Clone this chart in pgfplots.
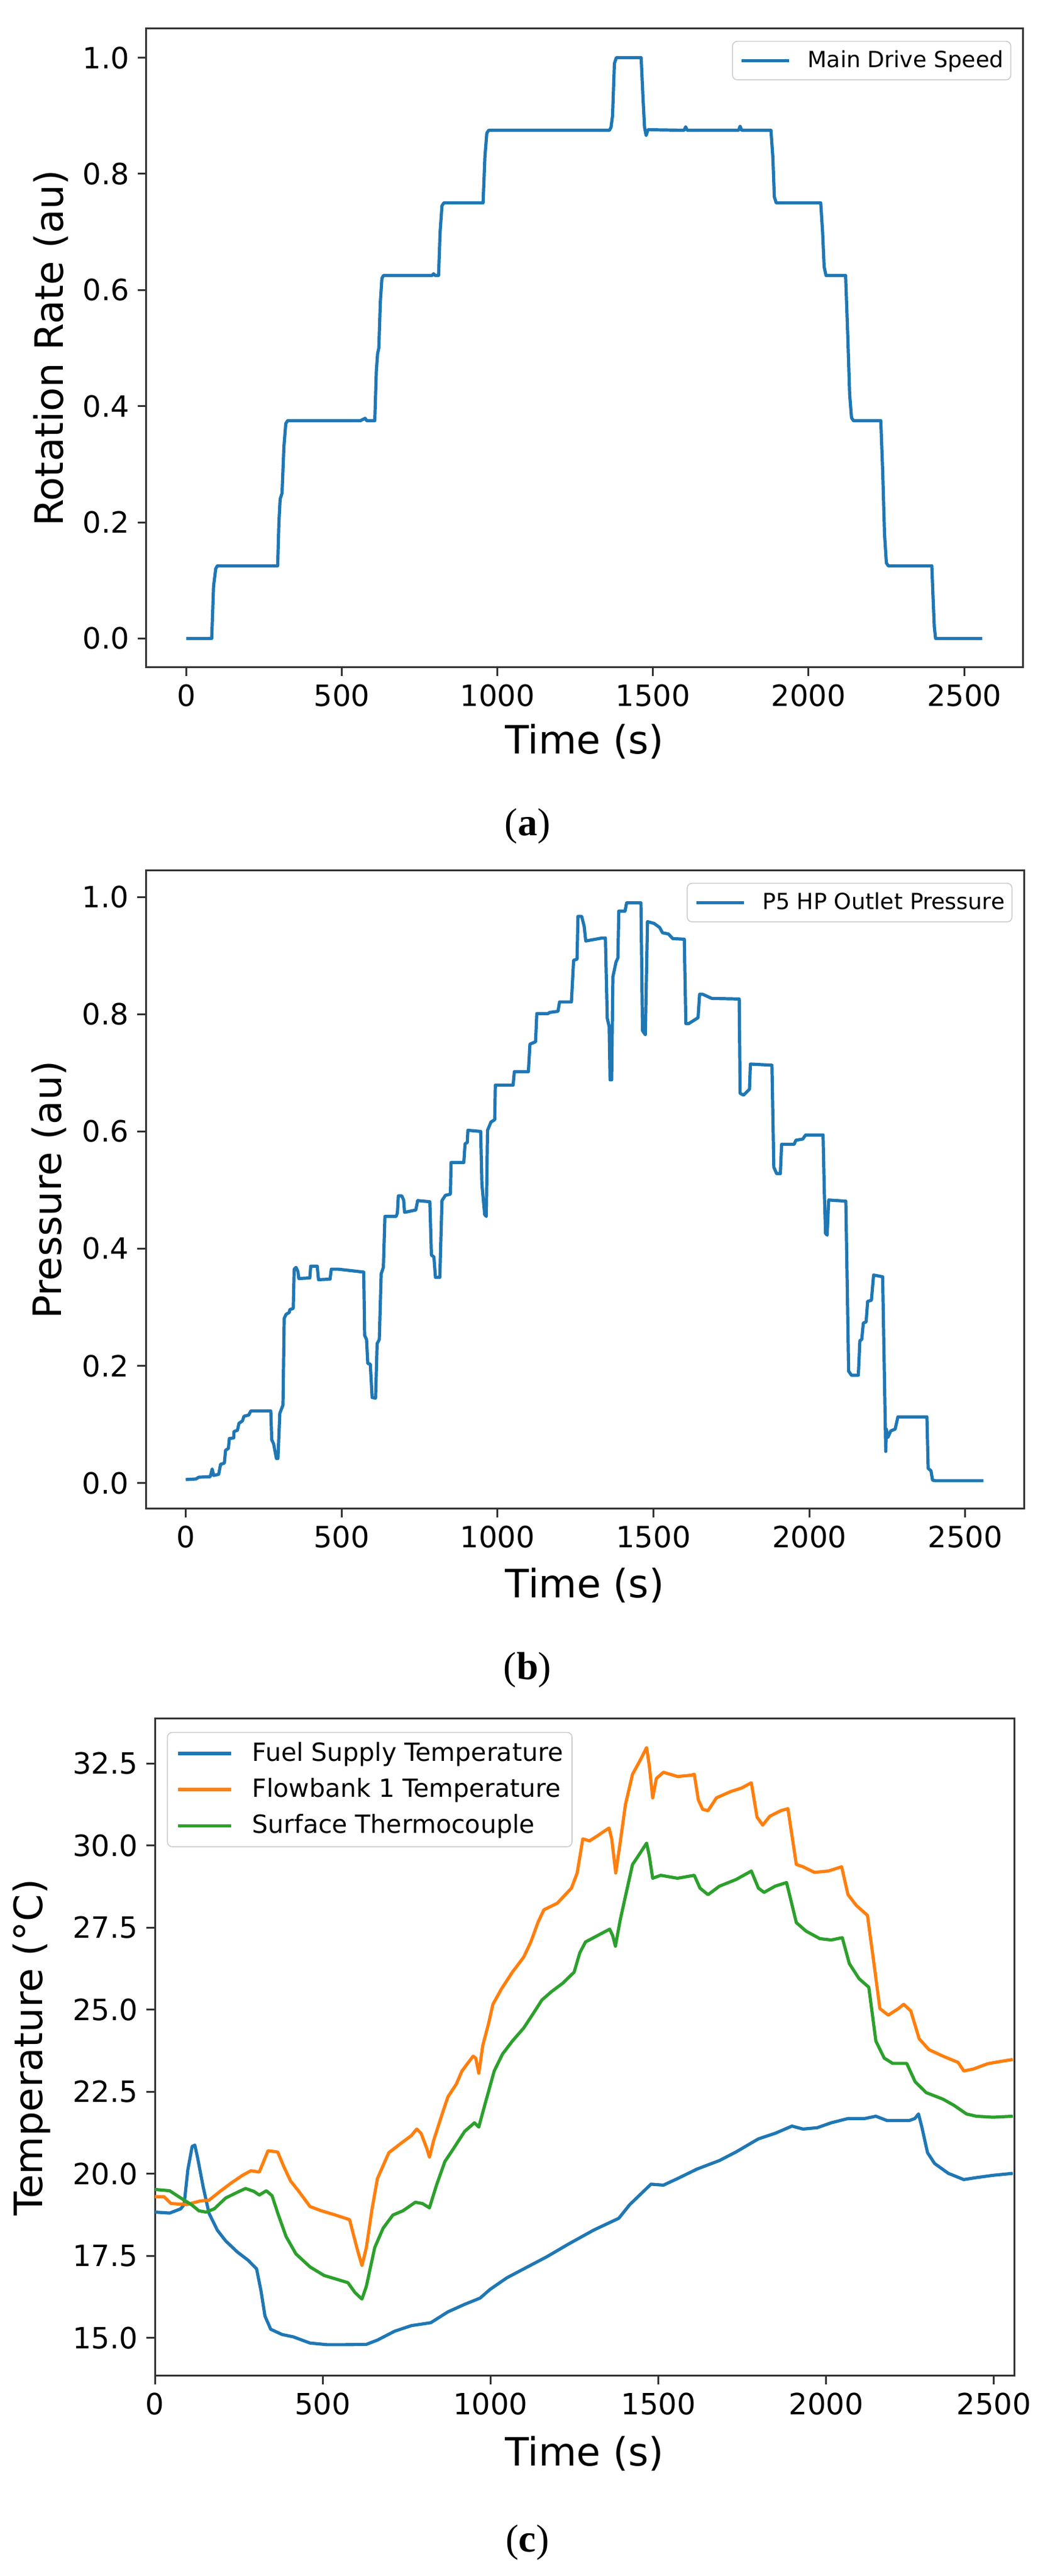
\documentclass[border=0pt]{standalone}
\usepackage{pgfplots}
\pgfplotsset{compat=1.18}
\usepackage{fontspec}
\setmainfont{DejaVu Sans}
\newfontfamily\capfont{Liberation Serif}
\definecolor{tabblue}{HTML}{1F77B4}
\definecolor{taborange}{HTML}{FF7F0E}
\definecolor{tabgreen}{HTML}{2CA02C}
\pgfplotsset{
  mplstyle/.style={
    scale only axis,
    axis line style={line width=0.75pt,black!80},
    tick style={line width=0.75pt,black!80},
    major tick length=3.4pt,
    tick align=outside,
    xtick pos=lower, ytick pos=left,
    scaled ticks=false,
    /pgf/number format/assume math mode=true,
    /pgf/number format/1000 sep={},
    ticklabel style={font=\fontsize{12}{14}\selectfont},
    label style={font=\fontsize{16}{19}\selectfont},
    legend cell align=left,
    every axis plot/.append style={line width=1.3pt,line join=round},
  },
  unitystyle/.style={
    xmin=-128, xmax=2688, ymin=-0.05, ymax=1.05,
    xtick={0,500,1000,1500,2000,2500},
    ytick={0,0.2,0.4,0.6,0.8,1.0},
    yticklabel style={/pgf/number format/.cd,fixed,fixed zerofill,precision=1},
  },
  smalllegend/.style={
    legend image code/.code={\draw[##1,line width=1.3pt] (0pt,0pt) -- (19.5pt,0pt);},
    legend style={at={(0.987,0.981)},anchor=north east,draw=black!20,rounded corners=2pt,
      font=\fontsize{9.1}{11}\selectfont,inner xsep=3pt,inner ysep=2.2pt,column sep=7pt,
      nodes={inner xsep=0pt,inner ysep=1.5pt}},
  },
}
\begin{document}
\begin{tikzpicture}
\useasboundingbox (0,0) rectangle (432.5pt,1055.5pt);
% ---------------- (a)
\begin{axis}[mplstyle, unitystyle, smalllegend,
  at={(60pt,782pt)}, anchor=south west,
  width=359.25pt, height=261.75pt,
  xlabel={Time (s)}, ylabel={Rotation Rate (au)},
  xlabel style={at={(axis description cs:0.5,-0.1156)},anchor=center},
  ylabel style={at={(axis description cs:-0.1093,0.5)},anchor=center},
]
\addplot[tabblue] table {
0 0.0
82 0.0
88 0.09
95 0.12
100 0.125
294 0.125
298 0.20
302 0.24
308 0.25
314 0.33
320 0.37
326 0.375
560 0.375
575 0.379
580 0.375
606 0.375
611 0.46
615 0.49
619 0.50
624 0.58
629 0.62
634 0.625
790 0.625
795 0.628
800 0.625
811 0.625
816 0.70
822 0.745
828 0.75
954 0.75
960 0.83
966 0.87
972 0.875
1360 0.875
1365 0.88
1370 0.90
1376 0.99
1382 1.0
1462 1.0
1468 0.93
1473 0.88
1478 0.866
1484 0.876
1600 0.875
1605 0.881
1610 0.875
1775 0.875
1780 0.882
1785 0.875
1879 0.875
1885 0.83
1890 0.76
1896 0.75
2039 0.75
2045 0.70
2050 0.64
2056 0.625
2119 0.625
2126 0.52
2132 0.42
2138 0.38
2144 0.375
2232 0.375
2238 0.29
2244 0.18
2250 0.13
2256 0.125
2396 0.125
2400 0.07
2404 0.02
2408 0.0
2558 0.0
};
\addlegendentry{Main Drive Speed}
\end{axis}
\node[font=\capfont\fontsize{16}{19}\selectfont] at (216.25pt,717pt) {(\textbf{a})};
% ---------------- (b)
\begin{axis}[mplstyle, unitystyle, smalllegend, ymin=-0.044, ymax=1.045,
  at={(59.75pt,437.25pt)}, anchor=south west,
  width=360pt, height=261.5pt,
  xlabel={Time (s)}, ylabel={Pressure (au)},
  xlabel style={at={(axis description cs:0.5,-0.1195)},anchor=center},
  ylabel style={at={(axis description cs:-0.110,0.5)},anchor=center},
]
\addplot[tabblue] table {
0 0.006
33 0.007
42 0.010
79 0.011
85 0.024
90 0.013
106 0.015
112 0.032
124 0.034
128 0.056
137 0.059
140 0.076
154 0.077
155 0.088
166 0.090
171 0.102
182 0.106
187 0.114
202 0.116
209 0.123
273 0.123
276 0.074
282 0.067
291 0.042
296 0.042
302 0.119
312 0.133
316 0.281
322 0.288
332 0.291
334 0.296
345 0.298
348 0.365
354 0.368
360 0.361
363 0.349
398 0.350
401 0.370
422 0.370
426 0.347
463 0.348
467 0.365
489 0.365
571 0.360
574 0.252
580 0.245
584 0.204
592 0.203
598 0.146
609 0.145
614 0.238
621 0.245
627 0.357
634 0.368
639 0.455
675 0.455
679 0.461
682 0.490
693 0.490
699 0.483
702 0.462
738 0.466
744 0.482
783 0.480
788 0.389
796 0.386
801 0.351
815 0.351
822 0.482
833 0.491
849 0.493
851 0.547
892 0.547
896 0.579
903 0.581
905 0.602
946 0.600
950 0.510
959 0.458
964 0.455
968 0.602
979 0.616
991 0.620
993 0.679
1050 0.679
1054 0.702
1099 0.702
1104 0.749
1122 0.753
1126 0.801
1162 0.801
1167 0.803
1194 0.805
1199 0.821
1237 0.821
1244 0.892
1255 0.894
1258 0.967
1270 0.967
1278 0.950
1283 0.925
1335 0.930
1346 0.930
1352 0.793
1358 0.779
1361 0.688
1366 0.688
1370 0.864
1380 0.889
1386 0.896
1389 0.976
1409 0.976
1414 0.990
1460 0.990
1465 0.772
1474 0.765
1481 0.958
1502 0.955
1520 0.948
1529 0.939
1548 0.937
1562 0.929
1599 0.928
1604 0.784
1613 0.784
1643 0.794
1648 0.834
1658 0.834
1687 0.827
1775 0.826
1778 0.665
1789 0.662
1808 0.672
1811 0.715
1880 0.713
1886 0.539
1895 0.528
1907 0.528
1911 0.578
1951 0.578
1957 0.585
1979 0.587
1988 0.594
2044 0.594
2048 0.497
2052 0.426
2057 0.423
2062 0.483
2117 0.481
2126 0.191
2135 0.184
2157 0.184
2162 0.243
2168 0.245
2173 0.273
2182 0.275
2187 0.310
2199 0.312
2206 0.355
2235 0.352
2245 0.054
2247 0.092
2252 0.078
2261 0.089
2275 0.092
2284 0.113
2377 0.113
2381 0.025
2390 0.021
2395 0.005
2404 0.004
2558 0.004
};
\addlegendentry{P5 HP Outlet Pressure}
\end{axis}
\node[font=\capfont\fontsize{16}{19}\selectfont] at (216.25pt,371.25pt) {(\textbf{b})};
% ---------------- (c)
\begin{axis}[mplstyle,
  at={(63.5pt,82pt)}, anchor=south west,
  width=352.25pt, height=269.25pt,
  xmin=0, xmax=2560, ymin=13.84, ymax=33.86,
  xtick={0,500,1000,1500,2000,2500},
  ytick={15,17.5,20,22.5,25,27.5,30,32.5},
  yticklabel style={/pgf/number format/.cd,fixed,fixed zerofill,precision=1},
  xlabel={Time (s)}, ylabel={Temperature (°C)},
  xlabel style={at={(axis description cs:0.5,-0.118)},anchor=center},
  ylabel style={at={(axis description cs:-0.1434,0.5)},anchor=center},
  legend image code/.code={\draw[#1,line width=1.3pt] (0pt,0pt) -- (21.8pt,0pt);},
  legend style={at={(0.014,0.98)},anchor=north west,draw=black!20,rounded corners=2pt,
    font=\fontsize{10.25}{12}\selectfont,inner xsep=3.7pt,inner ysep=2.5pt,
    column sep=8pt,row sep=2.5pt,nodes={inner xsep=0pt,inner ysep=1.5pt}},
]
\addplot[tabblue] table {
0 18.83
44 18.80
77 18.93
87 19.06
98 20.11
111 20.83
119 20.87
127 20.50
144 19.59
161 18.80
186 18.28
211 17.95
245 17.62
278 17.36
303 17.10
316 16.44
328 15.66
345 15.26
379 15.10
412 15.03
462 14.84
513 14.79
563 14.79
630 14.80
663 14.93
714 15.20
764 15.37
822 15.46
873 15.79
923 16.02
969 16.21
998 16.47
1049 16.83
1099 17.10
1166 17.46
1233 17.86
1307 18.28
1382 18.64
1415 19.06
1478 19.68
1515 19.65
1557 19.85
1615 20.14
1682 20.40
1731 20.66
1798 21.06
1848 21.23
1898 21.45
1931 21.36
1973 21.40
2015 21.55
2065 21.68
2115 21.68
2148 21.75
2181 21.62
2248 21.62
2264 21.68
2275 21.82
2285 21.42
2302 20.64
2323 20.31
2364 20.01
2410 19.82
2447 19.88
2497 19.95
2556 20.01
};
\addlegendentry{Fuel Supply Temperature}
\addplot[taborange] table {
0 19.30
27 19.30
48 19.09
94 19.06
136 19.17
161 19.19
194 19.46
228 19.72
261 19.95
286 20.09
311 20.05
324 20.37
337 20.70
366 20.66
383 20.24
404 19.78
429 19.46
462 19.00
496 18.87
538 18.74
580 18.60
588 18.28
605 17.62
617 17.20
630 17.75
647 18.93
663 19.85
697 20.64
730 20.90
764 21.16
780 21.36
793 21.23
810 20.77
818 20.50
831 21.03
856 21.82
873 22.34
898 22.73
915 23.13
948 23.58
956 23.52
965 23.06
977 23.91
994 24.57
1007 25.16
1032 25.62
1065 26.14
1099 26.60
1120 27.06
1141 27.65
1159 28.04
1199 28.24
1241 28.70
1258 29.16
1275 30.20
1295 30.14
1315 30.27
1353 30.53
1361 30.20
1373 29.16
1386 30.07
1402 31.25
1423 32.17
1444 32.56
1465 32.98
1473 32.43
1483 31.45
1494 32.04
1515 32.23
1557 32.10
1598 32.14
1607 32.17
1619 31.39
1632 31.10
1648 31.06
1673 31.45
1715 31.64
1748 31.75
1777 31.91
1794 30.86
1811 30.62
1832 30.89
1865 31.06
1886 31.12
1911 29.42
1931 29.35
1965 29.18
2006 29.22
2046 29.35
2065 28.50
2090 28.17
2123 27.87
2144 26.27
2160 25.03
2185 24.83
2215 25.03
2231 25.16
2252 24.96
2277 24.11
2306 23.78
2348 23.58
2393 23.39
2410 23.13
2439 23.19
2481 23.35
2514 23.41
2556 23.48
};
\addlegendentry{Flowbank 1 Temperature}
\addplot[tabgreen] table {
0 19.52
44 19.48
77 19.26
111 19.04
131 18.87
152 18.83
177 18.93
211 19.26
245 19.43
270 19.55
295 19.46
311 19.35
332 19.48
349 19.33
366 18.80
391 18.08
420 17.56
462 17.16
504 16.90
546 16.77
575 16.68
596 16.38
617 16.18
630 16.57
655 17.75
680 18.34
709 18.74
739 18.87
776 19.13
797 19.09
818 18.96
839 19.65
864 20.37
890 20.77
923 21.29
952 21.55
965 21.42
986 22.21
1011 23.13
1036 23.65
1065 24.04
1099 24.44
1124 24.83
1153 25.29
1182 25.55
1216 25.81
1249 26.14
1266 26.73
1283 27.06
1307 27.19
1355 27.45
1364 27.25
1372 26.93
1386 27.71
1403 28.50
1423 29.42
1444 29.74
1465 30.07
1473 29.68
1483 29.00
1507 29.09
1557 29.00
1607 29.09
1624 28.70
1648 28.50
1682 28.76
1731 28.96
1777 29.22
1798 28.70
1815 28.57
1848 28.76
1882 28.87
1911 27.65
1940 27.39
1981 27.16
2015 27.12
2048 27.19
2069 26.40
2098 25.94
2127 25.68
2148 24.04
2173 23.52
2198 23.36
2240 23.36
2265 22.80
2298 22.47
2348 22.27
2381 22.08
2418 21.82
2447 21.75
2497 21.72
2556 21.75
};
\addlegendentry{Surface Thermocouple}
\end{axis}
\node[font=\capfont\fontsize{16}{19}\selectfont] at (216.25pt,13.75pt) {(\textbf{c})};
\end{tikzpicture}
\end{document}
